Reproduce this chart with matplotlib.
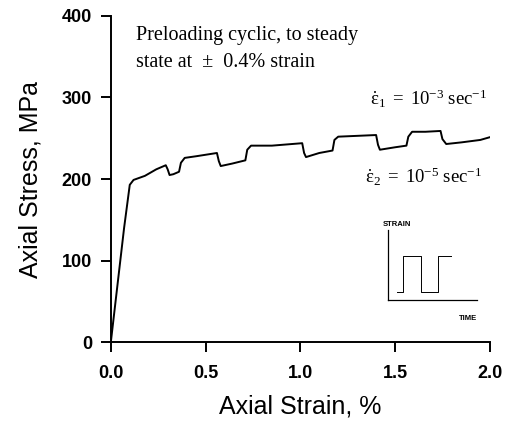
import matplotlib
import matplotlib.pyplot as plt

matplotlib.use("Agg")

# stress-strain record, strain rate switched between two values
strain = [0.0, 0.03, 0.07, 0.10, 0.12, 0.18, 0.24, 0.29, 0.30, 0.31, 0.33, 0.36,
          0.37, 0.39, 0.45, 0.56, 0.57, 0.58, 0.64, 0.71, 0.72, 0.74, 0.85, 1.01,
          1.02, 1.03, 1.10, 1.17, 1.18, 1.20, 1.30, 1.40, 1.41, 1.42, 1.50, 1.56,
          1.57, 1.59, 1.66, 1.74, 1.75, 1.77, 1.85, 1.95, 2.01]
stress = [0.0, 60.0, 140.0, 193.0, 199.0, 204.0, 212.0, 217.0, 212.0, 205.0, 206.0, 209.0,
          220.0, 226.0, 228.0, 232.0, 222.0, 216.0, 219.0, 223.0, 236.0, 241.0, 241.0, 244.0,
          232.0, 227.0, 232.0, 235.0, 248.0, 252.0, 253.0, 254.0, 242.0, 236.0, 239.0, 241.0,
          252.0, 258.0, 258.0, 259.0, 249.0, 243.0, 245.0, 248.0, 252.0]

# step history of the strain rate schedule
step_time = [0.0, 0.4, 0.4, 1.5, 1.5, 2.6, 2.6, 3.4]
step_level = [0.2, 0.2, 1.0, 1.0, 0.2, 0.2, 1.0, 1.0]

x_ticks = [0.0, 0.5, 1.0, 1.5, 2.0]
y_ticks = [0, 100, 200, 300, 400]

plt.rcParams["font.family"] = ["Liberation Sans", "DejaVu Sans"]
plt.rcParams["mathtext.fontset"] = "custom"
plt.rcParams["mathtext.rm"] = "Liberation Serif"
plt.rcParams["mathtext.it"] = "Liberation Serif:italic"
serif = ["Liberation Serif", "DejaVu Serif"]

fig = plt.figure(figsize=(5.06, 4.29), dpi=100)
ax = fig.add_axes([0.219, 0.202, 0.749, 0.761])
ax.plot(strain, stress, color="black", lw=1.4)

ax.set_xlim(0, 2.0)
ax.set_ylim(0, 400)
ax.set_xticks(x_ticks)
ax.set_xticklabels([f"{t:.1f}" for t in x_ticks])
ax.set_yticks(y_ticks)
for side in ("top", "right"):
    ax.spines[side].set_visible(False)
for side in ("left", "bottom"):
    ax.spines[side].set_linewidth(1.4)
ax.tick_params(direction="out", length=7.5, width=1.4, labelsize=13, pad=6)
ax.tick_params(axis="x", pad=9)
for lab in ax.get_xticklabels() + ax.get_yticklabels():
    lab.set_fontweight("bold")
ax.set_xlabel("Axial Strain, %", fontsize=18, labelpad=9)
ax.set_ylabel("Axial Stress, MPa", fontsize=18, labelpad=14)

ax.text(0.133, 370, "Preloading cyclic, to steady", family=serif, fontsize=14.5,
        va="baseline")
ax.text(0.133, 337, "state at  \u00b1  0.4% strain", family=serif, fontsize=14.5,
        va="baseline")
ax.text(1.985, 290, r"$\dot{\mathrm{ε}}_1\ \mathrm{=\ 10^{-3}\ sec^{-1}}$",
        fontsize=13.5, ha="right", va="baseline")
ax.text(1.96, 195, r"$\dot{\mathrm{ε}}_2\ \mathrm{=\ 10^{-5}\ sec^{-1}}$",
        fontsize=13.5, ha="right", va="baseline")

# small schematic of the strain history
inset = fig.add_axes([0.766, 0.300, 0.176, 0.164])
inset.plot(step_time, step_level, color="black", lw=0.7)
inset.set_xlim(-0.6, 5.0)
inset.set_ylim(0.0, 1.6)
inset.set_xticks([])
inset.set_yticks([])
inset.patch.set_visible(False)
for side in ("top", "right"):
    inset.spines[side].set_visible(False)
for side in ("left", "bottom"):
    inset.spines[side].set_linewidth(0.9)
inset.text(-0.9, 1.7, "STRAIN", fontsize=5.5, fontweight="bold")
inset.text(3.9, -0.45, "TIME", fontsize=5.5, fontweight="bold")

fig.savefig("out.png", dpi=100)
